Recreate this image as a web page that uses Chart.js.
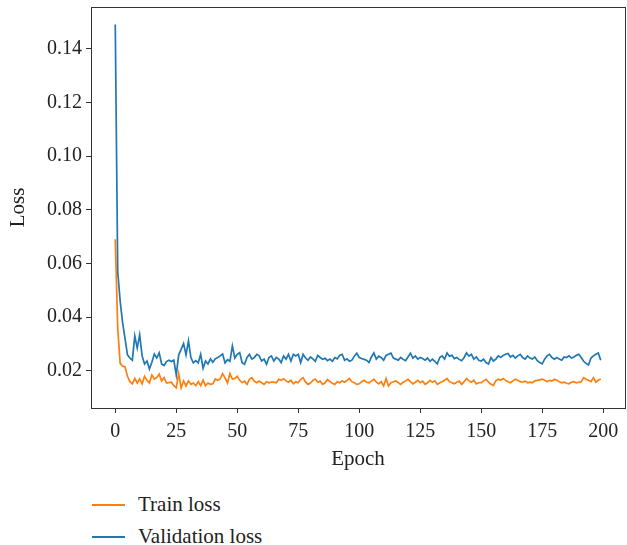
<!DOCTYPE html>
<html>
<head>
<meta charset="utf-8">
<script src="https://cdn.jsdelivr.net/npm/chart.js@4"></script>
<style>
  body { margin: 0; background: #fff; }
  #wrap { position: relative; width: 627px; height: 545px; }
  #chart { position: absolute; left: 0; top: 0; }
  .leg { position: absolute; left: 92px; font: 21px "Liberation Serif", serif; color: #222; }
  .leg span.line { position: absolute; left: 0; width: 33px; height: 1.5px; top: 12px; }
  .leg span.txt { position: absolute; left: 46px; top: 0; white-space: nowrap; }
</style>
</head>
<body>
<div id="wrap">
  <canvas id="chart" width="627" height="475"></canvas>
  <div class="leg" style="top:492px"><span class="line" style="background:#ff7f0e"></span><span class="txt">Train loss</span></div>
  <div class="leg" style="top:524px"><span class="line" style="background:#1f77b4"></span><span class="txt">Validation loss</span></div>
</div>
<script>
const seriesNames = ["Train loss", "Validation loss"];
const xTicks = [0, 25, 50, 75, 100, 125, 150, 175, 200];
const yTicks = [0.02, 0.04, 0.06, 0.08, 0.10, 0.12, 0.14];

const trainLoss = [
  0.069, 0.036, 0.0228, 0.0218, 0.0215, 0.018, 0.016, 0.0152, 0.0172, 0.0155,
  0.017, 0.0152, 0.018, 0.0165, 0.0155, 0.0185, 0.017, 0.0175, 0.0188, 0.0163,
  0.0175, 0.0155, 0.0157, 0.0158, 0.0145, 0.0137, 0.019, 0.0137, 0.0163, 0.0144,
  0.0163, 0.015, 0.0155, 0.0145, 0.016, 0.0145, 0.0166, 0.0145, 0.0155, 0.015,
  0.0152, 0.017, 0.0165, 0.017, 0.019, 0.0174, 0.0155, 0.019, 0.017, 0.0172,
  0.0180, 0.0165, 0.0156, 0.0162, 0.0150, 0.0169, 0.0175, 0.0162, 0.0156, 0.0162,
  0.0156, 0.0150, 0.0160, 0.0156, 0.0158, 0.0158, 0.0156, 0.0169, 0.0165, 0.0171,
  0.0163, 0.0158, 0.0165, 0.0152, 0.0160, 0.0156, 0.0169, 0.0175, 0.0158, 0.0150,
  0.0155, 0.0165, 0.0170, 0.0158, 0.0162, 0.0150, 0.0156, 0.0168, 0.0160, 0.0154,
  0.0150, 0.0160, 0.0156, 0.0163, 0.0158, 0.0165, 0.0172, 0.0160, 0.0156, 0.0150,
  0.0152, 0.0160, 0.0165, 0.0158, 0.0156, 0.0162, 0.0169, 0.0158, 0.0152, 0.0160,
  0.0144, 0.0172, 0.0144, 0.0156, 0.0160, 0.0163, 0.0156, 0.0150, 0.0158, 0.0163,
  0.0169, 0.0160, 0.0152, 0.0158, 0.0165, 0.0156, 0.0162, 0.0150, 0.0156, 0.0165,
  0.0158, 0.0163, 0.0150, 0.0156, 0.0160, 0.0165, 0.0172, 0.0160, 0.0156, 0.0152,
  0.0158, 0.0162, 0.0150, 0.0160, 0.0172, 0.0163, 0.0158, 0.0165, 0.0152, 0.0156,
  0.0156, 0.0163, 0.0169, 0.0158, 0.0150, 0.0146, 0.0163, 0.0169, 0.0165, 0.0172,
  0.0165, 0.0160, 0.0156, 0.0163, 0.0169, 0.0165, 0.0160, 0.0158, 0.0162, 0.0156,
  0.0158, 0.0156, 0.0163, 0.0165, 0.0167, 0.0169, 0.0165, 0.0160, 0.0165, 0.0162,
  0.0169, 0.0165, 0.0160, 0.0156, 0.0158, 0.0154, 0.0152, 0.0158, 0.0160, 0.0156,
  0.0158, 0.0160, 0.0175, 0.0169, 0.0165, 0.0160, 0.0175, 0.0158, 0.0165, 0.0170
];

const valLoss = [
  0.149, 0.057, 0.046, 0.038, 0.032, 0.026, 0.0248, 0.024, 0.033, 0.0285,
  0.0335, 0.0256, 0.0226, 0.0237, 0.0207, 0.0232, 0.0263, 0.0248, 0.0267, 0.0226,
  0.022, 0.0235, 0.024, 0.0235, 0.024, 0.0185, 0.026, 0.028, 0.0302, 0.026,
  0.0312, 0.025, 0.023, 0.0238, 0.023, 0.0262, 0.021, 0.0237, 0.0226, 0.0245,
  0.0232, 0.0245, 0.025, 0.0256, 0.0263, 0.023, 0.0242, 0.0236, 0.0293, 0.0248,
  0.0262, 0.0268, 0.0231, 0.0225, 0.025, 0.0262, 0.0244, 0.025, 0.0262, 0.0256,
  0.0237, 0.0244, 0.0225, 0.025, 0.0256, 0.0237, 0.025, 0.0244, 0.0231, 0.0256,
  0.0244, 0.0262, 0.0237, 0.0262, 0.0256, 0.0262, 0.0231, 0.0262, 0.0248, 0.0240,
  0.0252, 0.0245, 0.0236, 0.0258, 0.0250, 0.0243, 0.0247, 0.0238, 0.0244, 0.0236,
  0.0250, 0.0245, 0.0258, 0.0262, 0.0240, 0.0245, 0.0236, 0.0240, 0.0255, 0.0266,
  0.0250, 0.0246, 0.0243, 0.0240, 0.0231, 0.0252, 0.0267, 0.0244, 0.0255, 0.0250,
  0.0240, 0.0258, 0.0262, 0.0266, 0.0248, 0.0244, 0.0240, 0.0250, 0.0243, 0.0238,
  0.0252, 0.0266, 0.0248, 0.0256, 0.0244, 0.0250, 0.0246, 0.0240, 0.0248, 0.0236,
  0.0244, 0.0236, 0.0226, 0.0250, 0.0256, 0.0244, 0.0267, 0.0255, 0.0258, 0.0246,
  0.0250, 0.0243, 0.0238, 0.0250, 0.0267, 0.0255, 0.0262, 0.0244, 0.0252, 0.0240,
  0.0237, 0.0244, 0.0231, 0.0226, 0.0250, 0.0237, 0.0244, 0.0256, 0.0250, 0.0258,
  0.0262, 0.0265, 0.0252, 0.0258, 0.0248, 0.0256, 0.0262, 0.0250, 0.0244, 0.0256,
  0.0248, 0.0244, 0.0252, 0.0238, 0.0231, 0.0226, 0.0244, 0.0256, 0.0262, 0.0250,
  0.0244, 0.0250, 0.0244, 0.0240, 0.0252, 0.0250, 0.0256, 0.0248, 0.0252, 0.0258,
  0.0262, 0.0250, 0.0236, 0.0228, 0.0222, 0.0248, 0.0256, 0.0262, 0.0267, 0.0240
];

const epochs = trainLoss.map((_, i) => i);

const tickFont = { family: "'Liberation Serif', serif", size: 20 };
const titleFont = { family: "'Liberation Serif', serif", size: 21 };
const ink = '#222';

// matplotlib-style box round the plot
const frame = {
  id: 'frame',
  afterDraw(chart) {
    const { ctx, chartArea: a } = chart;
    ctx.save();
    ctx.strokeStyle = '#333';
    ctx.lineWidth = 1;
    ctx.strokeRect(Math.round(a.left) + 0.5, Math.round(a.top) + 0.5,
                   Math.round(a.right - a.left), Math.round(a.bottom - a.top));
    ctx.restore();
  }
};

const ctx = document.getElementById('chart').getContext('2d');
new Chart(ctx, {
  type: 'line',
  data: {
    datasets: [{
      label: seriesNames[0],
      data: epochs.map((e, i) => ({ x: e, y: trainLoss[i] })),
      borderColor: '#ff7f0e',
      borderWidth: 1.7,
      pointRadius: 0,
      tension: 0
    }, {
      label: seriesNames[1],
      data: epochs.map((e, i) => ({ x: e, y: valLoss[i] })),
      borderColor: '#1f77b4',
      borderWidth: 1.7,
      pointRadius: 0,
      tension: 0
    }]
  },
  options: {
    responsive: false,
    animation: false,
    devicePixelRatio: 1,
    layout: { padding: { top: 7, right: 2, left: 0, bottom: 0 } },
    plugins: { legend: { display: false }, tooltip: { enabled: false } },
    scales: {
      x: {
        type: 'linear',
        min: -9.95,
        max: 208.95,
        afterBuildTicks: s => { s.ticks = xTicks.map(v => ({ value: v })); },
        afterFit: s => { s.height = 67; s.paddingLeft = 0; s.paddingRight = 0; },
        grid: { drawOnChartArea: false, tickLength: 5, color: '#333' },
        border: { color: '#333' },
        ticks: { font: tickFont, color: ink, padding: 7, maxRotation: 0, autoSkip: false },
        title: { display: true, text: 'Epoch', font: titleFont, color: ink, padding: { top: 0, bottom: 3 } }
      },
      y: {
        min: 0.0062,
        max: 0.1555,
        afterBuildTicks: s => { s.ticks = yTicks.map(v => ({ value: v })); },
        afterFit: s => { s.width = 91; s.paddingTop = 0; s.paddingBottom = 0; },
        grid: { drawOnChartArea: false, tickLength: 5, color: '#333' },
        border: { color: '#333' },
        ticks: { font: tickFont, color: ink, padding: 4, autoSkip: false, callback: v => v.toFixed(2) },
        title: { display: true, text: 'Loss', font: titleFont, color: ink, padding: { top: 6, bottom: 0 } }
      }
    }
  },
  plugins: [frame]
});
</script>
</body>
</html>
